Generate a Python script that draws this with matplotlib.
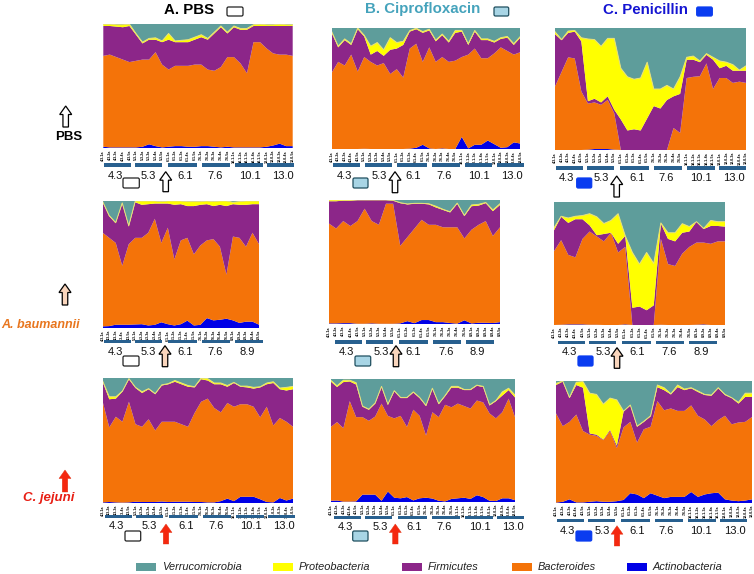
import numpy as np
import matplotlib
matplotlib.use("Agg")
import matplotlib.pyplot as plt
from matplotlib.patches import FancyArrow, FancyBboxPatch, Rectangle

plt.rcParams['font.family'] = ['Liberation Sans', 'DejaVu Sans']

# cumulative upper boundary of each phylum, percent of reads, per sample
# row 1 / PBS challenge
a1_actino = [1,.5,.5,.5,.5,.5,1,3,1.5,.5,1,1.5,1.5,1,1,1.5,1.5,1,.5,1,.5,.5,.5,.5,.5,1,2,3.5,1.5,1.5]
a1_bact = [74,75,73,71,69,70,71,71,77,67,63,66,66,66,67,67,63,62,65,73,73,68,60,85,85,80,76,75,75,74]
a1_firm = [98,98,97.5,97,98,91,84,87,87,85,87,85,85,85,87,89,87,92,97,92,97,95,95,98,98,98,98,98,98,98]
a1_proteo = [99.5,99.5,99,99,99.5,92,85,88,88.5,86,92,86,86.5,87,89,91,88,93,98,93,98,96,96,99,99.5,99,99,99.5,99,99]

b1_actino = [0,0,0,0,0,.2,0,0,0,0,0,0,.3,1,3.5,.5,0,.5,0,0,10,.5,3.5,3.5,7,4,1,1.5,5.5,4.5]
b1_bact = [63,72,69,78,64,76,72,69,71,62,66,59,83,87,72,84,72,76,72,73,76,78,83,75,75,79,84,81,78,80]
b1_firm = [96,84,90,86,99,93,78,81,77,82,83,86,97,99,96,98,89,94,88,96,97,86,97,90,90,88,91,92,86,92]
b1_proteo = [97,85,91,87,100,94,85,88,82,92,88,89,97.8,99.8,97,99,90,95,89,98,98,87,98,91,91,89,92,93,87,93]

c1_actino = [0,0,0,0,0,.3,.8,.8,.8,.3,0,0,0,0,0,0,0,0,0,0,0,0,0,0,0,0,0,0,0,0]
c1_bact = [52,64,76,75,48,38,39,37,41,30,0,0,0,0,0,0,0,0,18,14,59,60,60.5,71,50,59,59,55,56,55]
c1_firm = [95,90,96,97,89,40,42,39,44,33,25,16,17,16,26,36,34,41,44,46,74,74,72,78,74,67,69,65,65,65]
c1_proteo = [97,90.5,97.5,98,92,91,90.5,85,91.5,91.5,67,60,58,59,72,50,50,53,50,60,76,77,73,79,76,73,72,70,65.5,69]

# row 2 / A. baumannii challenge
a2_actino = [1.3,1.5,2.6,2.6,2.6,2.8,3,2,2.5,4.5,3,2,3,5.8,2,2.5,7.8,6,6.5,7.3,6,4,5,5,2.6]
a2_bact = [75,71,67,49,66,71,71,75,86,67,79,54,69,71,58,65,69,70,64,42,72,71,64,75,66]
a2_firm = [99,88,82.5,98,80,99,97,97.5,98,98,98,97,97.5,96,96,97,97.5,96,97,96,97.5,97,97,97.5,97.5]
a2_proteo = [99.5,88.5,83,98.5,80.5,100,100,100,100,99.5,100,100,100,99.5,99.5,99.5,100,99.5,100,100,99,99.5,100,100,100]

b2_actino = [.5,.5,.7,.7,.2,.2,.5,.2,.2,.2,.5,2.3,.7,3.2,3.2,1.5,1.5,.8,.3,3,.5,1,1,.8,1.5]
b2_bact = [81,77,83,79,83,93,83,80,97,97,63,70,77,84,80,80,78,78,78,69,76,80,83,71,78]
b2_firm = [99,99,99.5,99.5,100,100,100,100,100,99.5,97.5,96.5,97,97,96.5,94,92,90,97,87,95,95.5,97.5,91,96]
b2_proteo = [100,100,100,100,100,100,100,100,100,99.7,97.8,96.8,97.3,97.3,97,95,92.5,90.5,97.5,87.5,96,96.5,98,92,97]

c2_actino = [0,.2,.5,.5,.5,.2,.2,0,0,0,.5,0,0,0,0,.2,0,0,0,0,.2,.5,0,0,0]
c2_bact = [60,69,57,55,70,76,72,68,75,59,63.5,0,0,0,0,70,49.5,48,58,63.5,67,67,66,68,68]
c2_firm = [77,88,83,86,86,81,73,74,75,66,72.5,14,15,12,16,82.5,70,68,75,76,84,78,80.5,80.5,80]
c2_proteo = [79,88.4,87,88.4,89,90.5,88,82.5,85,90.5,71.6,59,49.5,59,50,83,75,75,82.4,80,84,78.5,85,84,84]

# row 3 / C. jejuni challenge
a3_actino = [.5,.8,.5,.3,.5,1,.8,.8,.8,1.2,.8,1,1,1,.8,.8,.5,.5,1.5,3.5,1.5,5,5,5,3,.8,.5,4,2,3.5]
a3_bact = [81,60.5,69,65,81,63,61,67,58,65,65,65,63,61,72,81,83.5,76,72.5,80,77,79,79,77,68.5,77,62,68,65,61]
a3_firm = [97,83,83.5,89,99,92,88,91,87,94,95,97,95,93,92.5,99,98,95,95,93,96,93,92.5,91.5,92.5,95,96,91,90,91]
a3_proteo = [97.5,85,85,89.5,99.5,92.5,89,91.5,87.5,94.5,95.5,98,96,94,93,100,99.5,96,96,94,96.5,93.5,93.5,92.5,93,96,97,92,92.5,93.3]

b3_actino = [1,1.2,.3,.3,.5,6,6,6,1,8.5,3.5,3,4,1.3,3,3.5,2.8,1,.5,2.5,3,3.5,2.5,5.5,4,1,.8,3,3,1.5]
b3_bact = [61,65,60,82,69,69,66,69.5,80,70,68,70,61,75,70,54,73,69,79,77,80,78,76,82.5,81,72,68,73,84,69]
b3_firm = [98,93.5,97.5,98,95.5,77.5,75,80,93.5,79,90,84.5,84.5,89,84.5,78,92,79.5,86,93,93,91,91,94.5,93.5,78.5,82,86.5,91,85]
b3_proteo = [99,94.5,99,99,97,78,75.5,80.5,94,79.5,90.5,85,85,89.5,85,78.5,92.5,80,86.5,94,94,91.5,91.5,95,94,79,82.5,89.5,92.5,87]

c3_actino = [.3,1,3,.5,.5,1,1.5,1,1,1.5,2.5,8,7,4,8,6,4,5,5,5,9,5,7,8,8.5,3,2,1.5,2,3]
c3_bact = [73.5,63,66.5,72.5,59,56,55,51.5,59,45,62,66.5,49.5,60.5,62.5,83.5,76,77.5,75.5,75.5,80,71.5,68.5,63,68,71.5,64.5,66,66.5,70.5]
c3_firm = [96.7,99.5,86,96.7,94.5,57,56,52,60,47,75,80,62.5,66.5,71,95,92.5,89,95,92.5,94,91,88.5,88,94,88.5,86,81.5,87,87]
c3_proteo = [98,100,86.5,99,99.5,90,89,81,86,84.5,75.3,80.3,63,67,71.5,96.7,94.5,89.5,96.7,93.4,94.5,91.8,89,88.5,94.5,89,86.3,82.5,90,90]

ages_full = ['4.3', '5.3', '6.1', '7.6', '10.1', '13.0']
ages_short = ['4.3', '5.3', '6.1', '7.6', '8.9']
phyla = ['Verrucomicrobia', 'Proteobacteria', 'Firmicutes', 'Bacteroides', 'Actinobacteria']
treatments = ['A. PBS', 'B. Ciprofloxacin', 'C. Penicillin']
challenges = ['PBS', 'A. baumannii', 'C. jejuni']

COL = {'Verrucomicrobia': '#5E9D9B', 'Proteobacteria': '#FFFF00', 'Firmicutes': '#8C2689',
       'Bacteroides': '#F47309', 'Actinobacteria': '#0000E6'}
W, H = 754, 574
TREAT_FC = ['white', '#A8D5E5', '#0A3CF0']
ARROW_FC = ['white', '#F9D5BC', '#F5280F']

# panel: series, bbox px (l, t, r, b), ages, bar y, label y, label xs, rect (l, t, r, b), arrow (x, t, b), bar offset
panels = [
 (a1_actino,a1_bact,a1_firm,a1_proteo,(103.3,23.5,292.7,148),ages_full,165,175.7,[115,148.3,185,215,250,283.3],(123,178,139.3,188),(165.7,171.7,191.7),0,0,0),
 (b1_actino,b1_bact,b1_firm,b1_proteo,(331.7,28,520.3,149),ages_full,165,175.7,[344,379.3,413.3,444,479,511.7],(353,178,368,188),(395,171.7,192.7),1,1,0),
 (c1_actino,c1_bact,c1_firm,c1_proteo,(555,28,746,150),ages_full,168,178.3,[566,601.7,637.3,666,701,734.3],(576.7,178,591.7,188),(616.7,176,197),0,2,0),
 (a2_actino,a2_bact,a2_firm,a2_proteo,(102.7,201,259,328),ages_short,341.7,351.7,[115,148.3,185,215,246.7],(123,356,139,366),(165,345.7,366.7),0.5,0,1),
 (b2_actino,b2_bact,b2_firm,b2_proteo,(329,200,500,324),ages_short,342,351.7,[346,381,412.7,445.7,477.3],(355,356,370.7,366),(396,345.7,366.7),5,1,1),
 (c2_actino,c2_bact,c2_firm,c2_proteo,(554,202,725,325),ages_short,342.7,352.3,[569,603.3,637.3,669,701],(578,356,593,366),(617,347.7,368.3),3,2,1),
 (a3_actino,a3_bact,a3_firm,a3_proteo,(102.7,378,293,503),ages_full,516.7,526,[116,149.3,186,216,251,284.3],(125,531,140.7,541),(166,524,544),1.5,0,2),
 (b3_actino,b3_bact,b3_firm,b3_proteo,(330.7,379,515,502),ages_full,517.3,527,[345,380,414,444.3,480,512.7],(352.7,531,368,541),(395.3,524,544),2.5,1,2),
 (c3_actino,c3_bact,c3_firm,c3_proteo,(556,381,752,503),ages_full,520.7,531,[567.3,602.7,636.7,666,701,735],(576,531,591.7,541),(617,525.7,546),0,2,2),
]
bar_rel = [(0.5,27.5),(32,59),(64.5,94),(99,127),(132,159.5),(164,191)]

fig = plt.figure(figsize=(W/100, H/100), dpi=100, facecolor='white')
ov = fig.add_axes([0, 0, 1, 1], zorder=5)
ov.set_xlim(0, W); ov.set_ylim(H, 0); ov.axis('off')


def arrow(x, top, bottom, fc, lw=0.9, ec='black'):
    ov.add_patch(FancyArrow(x, bottom, 0, top-bottom, width=5.5, head_width=12, head_length=8.5,
                            length_includes_head=True, fc=fc, ec=ec, lw=lw))


def chip(l, t, r, b, fc):
    ec = '#1F4F5F' if fc == '#A8D5E5' else ('#0A3CF0' if fc == '#0A3CF0' else '#222222')
    ov.add_patch(FancyBboxPatch((l+1.5, t+1.5), r-l-3, b-t-3, boxstyle='round,pad=1.5', fc=fc, ec=ec, lw=0.9))


for act, bac, fir, pro, (l, t, r, b), ages, ybar, ylab, xlab, rect, arr, off, col, row in panels:
    ax = fig.add_axes([l/W, 1-b/H, (r-l)/W, (b-t)/H])
    n = len(act)
    x = np.arange(n)
    tops = np.maximum.accumulate(np.vstack([act, bac, fir, pro, np.full(n, 100.0)]), axis=0)
    shares = np.diff(np.vstack([np.zeros(n), tops]), axis=0)
    ax.stackplot(x, shares, colors=[COL['Actinobacteria'], COL['Bacteroides'], COL['Firmicutes'],
                                    COL['Proteobacteria'], COL['Verrucomicrobia']], lw=0)
    ax.plot(x, tops[3], color='#E8E07A', lw=0.7)
    ax.set_xlim(0, n-1); ax.set_ylim(0, 100)
    ax.set_yticks([])
    groups = len(ages)
    labels = [f'{ages[min(i//5, groups-1)]}-{i%5+1}a' for i in range(n)]
    ax.set_xticks(x, labels, rotation=90, fontsize=2.6, fontweight='bold', color='black')
    ax.tick_params(axis='x', length=0, pad=1.5)
    for s in ax.spines.values():
        s.set_visible(False)
    for k in range(groups):
        a0, a1 = bar_rel[k]
        ov.add_patch(Rectangle((l+a0+off, ybar-1.7), a1-a0, 3.4, fc='#28608F', ec='none'))
    for xt, lab in zip(xlab, ages):
        ov.text(xt, ylab, lab, ha='center', va='center', fontsize=8, color='#111111')
    chip(*rect, TREAT_FC[col])
    arrow(arr[0], arr[1], arr[2], ARROW_FC[row], ec='#E0300F' if row == 2 else 'black',
          lw=0.3 if row == 2 else 0.9)

# column titles
title_x = [189, 422.7, 645.7]
title_c = ['black', '#45A3BC', '#1414D2']
title_rect = [(227, 7, 243, 16), (494, 7, 508.7, 16), (696.7, 7, 712.3, 16)]
for i, name in enumerate(treatments):
    ov.text(title_x[i], 9.5, name, ha='center', va='center', fontsize=10.8, fontweight='bold', color=title_c[i])
    chip(*title_rect[i], TREAT_FC[i])

# row labels
arrow(65.7, 106, 127, 'white')
ov.text(69, 136.7, challenges[0], ha='center', va='center', fontsize=9.5, fontweight='bold', color='black')
arrow(65, 284, 305, '#F9D5BC')
ov.text(41, 325, challenges[1], ha='center', va='center', fontsize=9, fontweight='bold', style='italic', color='#E8761E')
arrow(65, 470, 492, '#F5280F', ec='#E0300F', lw=0.3)
ov.text(49, 497.5, challenges[2], ha='center', va='center', fontsize=9.5, fontweight='bold', style='italic', color='#E81E14')

# legend
leg_patch = [136, 273, 402, 511.7, 627]
leg_text = [161.7, 299, 428, 537.5, 652.7]
for p, tx, name in zip(leg_patch, leg_text, phyla):
    ov.add_patch(Rectangle((p, 563.3), 20, 8, fc=COL[name], ec='none'))
    ov.text(tx, 566.8, name, ha='left', va='center', fontsize=7.9, style='italic', color='#222222')

fig.savefig('out.png', dpi=100)
